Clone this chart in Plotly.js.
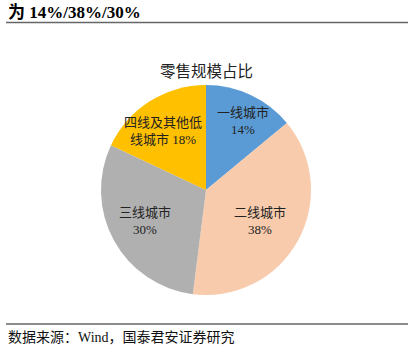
<!DOCTYPE html>
<html><head><meta charset="utf-8">
<script src="https://cdn.plot.ly/plotly-3.0.1.min.js"></script>
<style>html,body{margin:0;padding:0;background:#fff}#c{width:412px;height:362px}</style>
</head><body><div id="c"></div>
<script>
var categories = ["一线城市", "二线城市", "三线城市", "四线及其他低线城市"];
var shares = [14, 38, 30, 18];
var labelTexts = ["一线城市<br>14%", "二线城市<br>38%", "三线城市<br>30%", "四线及其他低<br>线城市 18%"];
var colors = ["#5B9BD5", "#F8CBAD", "#B0B0B0", "#FFC000"];
var headerText = "为 14%/38%/30%";
var chartTitle = "零售规模占比";
var sourceText = "数据来源：Wind，国泰君安证券研究";

var W = 412, H = 362;
function px(x){return x/W;} function py(y){return 1-y/H;}
var labelPos = [[243,121],[260,221],[145,221],[163,113]];
var font = "Liberation Serif, Noto Sans CJK SC, serif";
var anns = labelTexts.map(function(t,i){
  return {text:t, x:px(labelPos[i][0]), y:py(labelPos[i][1]), xref:'paper', yref:'paper',
    showarrow:false, font:{family:font, size:13, color:'#222'}, align:'center'};
});
anns.push({text:'<b>'+headerText+'</b>', x:px(6), y:py(12), xref:'paper', yref:'paper', xanchor:'left', yanchor:'middle', showarrow:false, font:{family:font, size:17, color:'#000'}});
anns.push({text:chartTitle, x:px(206), y:py(61), xref:'paper', yref:'paper', showarrow:false, font:{family:font, size:15.5, color:'#222'}});
anns.push({text:sourceText, x:px(6), y:py(337), xref:'paper', yref:'paper', xanchor:'left', yanchor:'middle', showarrow:false, font:{family:font, size:14, color:'#111'}});

var data = [{
  type:'pie', labels:categories, values:shares, sort:false, direction:'clockwise', rotation:0,
  marker:{colors:colors, line:{width:0}}, textinfo:'none', hoverinfo:'label+percent',
  domain:{x:[px(101),px(311)], y:[py(295),py(85)]}, showlegend:false
}];
var layout = {
  width:W, height:H, margin:{l:0,r:0,t:0,b:0}, paper_bgcolor:'#fff', plot_bgcolor:'#fff',
  showlegend:false, annotations:anns,
  shapes:[
    {type:'line', xref:'paper', yref:'paper', x0:px(6), x1:px(408), y0:py(22.5), y1:py(22.5), line:{color:'#666', width:1.5}},
    {type:'line', xref:'paper', yref:'paper', x0:px(6), x1:px(408), y0:py(324), y1:py(324), line:{color:'#666', width:1.5}}
  ]
};
Plotly.newPlot('c', data, layout, {displayModeBar:false, staticPlot:true});
</script></body></html>
